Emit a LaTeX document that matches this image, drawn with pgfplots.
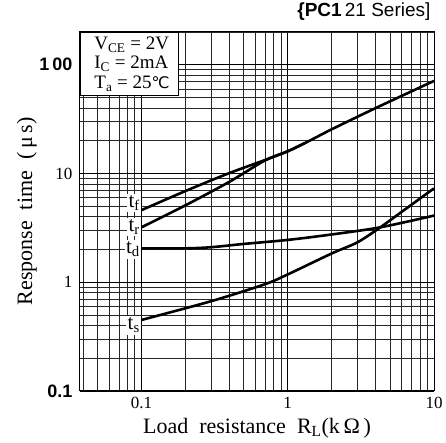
\documentclass[border=0pt]{standalone}
\usepackage{fontspec}
\setmainfont{Liberation Serif}
\setsansfont{Liberation Sans}
\newfontfamily\dejavu{DejaVu Sans}
\usepackage{pgfplots}
\pgfplotsset{compat=1.18}
\begin{document}
\begin{tikzpicture}
\path[use as bounding box] (0,0) rectangle (446pt,443pt);
\begin{axis}[
  at={(80pt,52pt)}, anchor=south west,
  scale only axis, width=354pt, height=359pt,
  xmode=log, ymode=log,
  xmin=0.038, xmax=10, ymin=0.1, ymax=200,
  xtick={0.1,1,10}, xticklabels={0.1,1,10},
  ytick={0.1,1,10,100},
  yticklabels={{\sffamily\bfseries\fontsize{18}{20}\selectfont 0.1},1,10,{\sffamily\bfseries\fontsize{18}{20}\selectfont 1\,00}},
  minor xtick={0.04,0.05,0.06,0.07,0.08,0.09,0.2,0.3,0.4,0.5,0.6,0.7,0.8,0.9,2,3,4,5,6,7,8,9},
  minor ytick={0.2,0.3,0.4,0.5,0.6,0.7,0.8,0.9,2,3,4,5,6,7,8,9,20,30,40,50,60,70,80,90,200},
  major tick length=0pt, minor tick length=0pt,
  grid=both,
  major grid style={black, line width=0.8pt},
  minor grid style={black!85, line width=0.6pt},
  axis line style={black, line width=1pt},
  tick label style={font=\fontsize{17}{19}\selectfont},
  /pgf/number format/assume math mode=true,
  xticklabel style={yshift=-3pt},
  yticklabel style={xshift=-4pt},
  xlabel={Load\ \ resistance\ \ R$_{\mathrm{L}}$(k\,Ω\,)},
  ylabel={Response\ \ time\ \ (\,μ\,s)},
  label style={font=\fontsize{22}{24}\selectfont},
  xlabel style={at={(axis description cs:0.5,-0.103)}, anchor=center},
  ylabel style={at={(axis description cs:-0.15,0.5)}, anchor=center},
  clip=true,
]
\addplot[black, line width=2.6pt, smooth] coordinates {
 (0.1,4.6) (0.2,6.9) (0.4,10.1) (1,16) (2,25.5) (4,40) (10,71)};
\addplot[black, line width=2.6pt, smooth] coordinates {
 (0.1,3.2) (0.2,5.1) (0.4,8.4) (0.7,13.2) (1,16) (1.3,19)};
\addplot[black, line width=2.6pt, smooth] coordinates {
 (0.1,2.05) (0.2,2.05) (0.3,2.1) (0.5,2.25) (1,2.45) (2,2.75) (4.3,3.2) (10,4.1)};
\addplot[black, line width=2.6pt, smooth] coordinates {
 (0.1,0.45) (0.3,0.67) (0.7,0.96) (1,1.18) (2,1.84) (3,2.33) (4.3,3.2) (6,4.43) (10,7.3)};
\node[fill=white, inner sep=1.5pt, anchor=east, font=\fontsize{21}{22}\selectfont] at (axis cs:0.1,5.3) {t$_\mathrm{f}$};
\node[fill=white, inner sep=1.5pt, anchor=east, font=\fontsize{21}{22}\selectfont] at (axis cs:0.1,3.2) {t$_\mathrm{r}$};
\node[fill=white, inner sep=1.5pt, anchor=east, font=\fontsize{21}{22}\selectfont] at (axis cs:0.1,2.0) {t$_\mathrm{d}$};
\node[fill=white, inner sep=1.5pt, anchor=east, font=\fontsize{21}{22}\selectfont] at (axis cs:0.1,0.40) {t$_\mathrm{s}$};
\node[fill=white, draw=black, line width=1pt, anchor=north west, minimum width=98pt, minimum height=63pt,
      align=left, inner sep=1pt, font=\fontsize{19}{19.5}\selectfont] at (rel axis cs:0,1)
  {\hspace*{5pt}V$_{\mathrm{CE}}$ = 2V\\ \hspace*{5pt}I$_{\mathrm{C}}$ = 2mA\\ \hspace*{5pt}T$_{\mathrm{a}}$ = 25{\dejavu\fontsize{16}{18}\selectfont ℃}};
\end{axis}
\node[anchor=east, font=\sffamily\fontsize{19}{21}\selectfont] at (434pt,431pt) {\textbf{\{PC1}\,21 Series]};
\end{tikzpicture}
\end{document}
